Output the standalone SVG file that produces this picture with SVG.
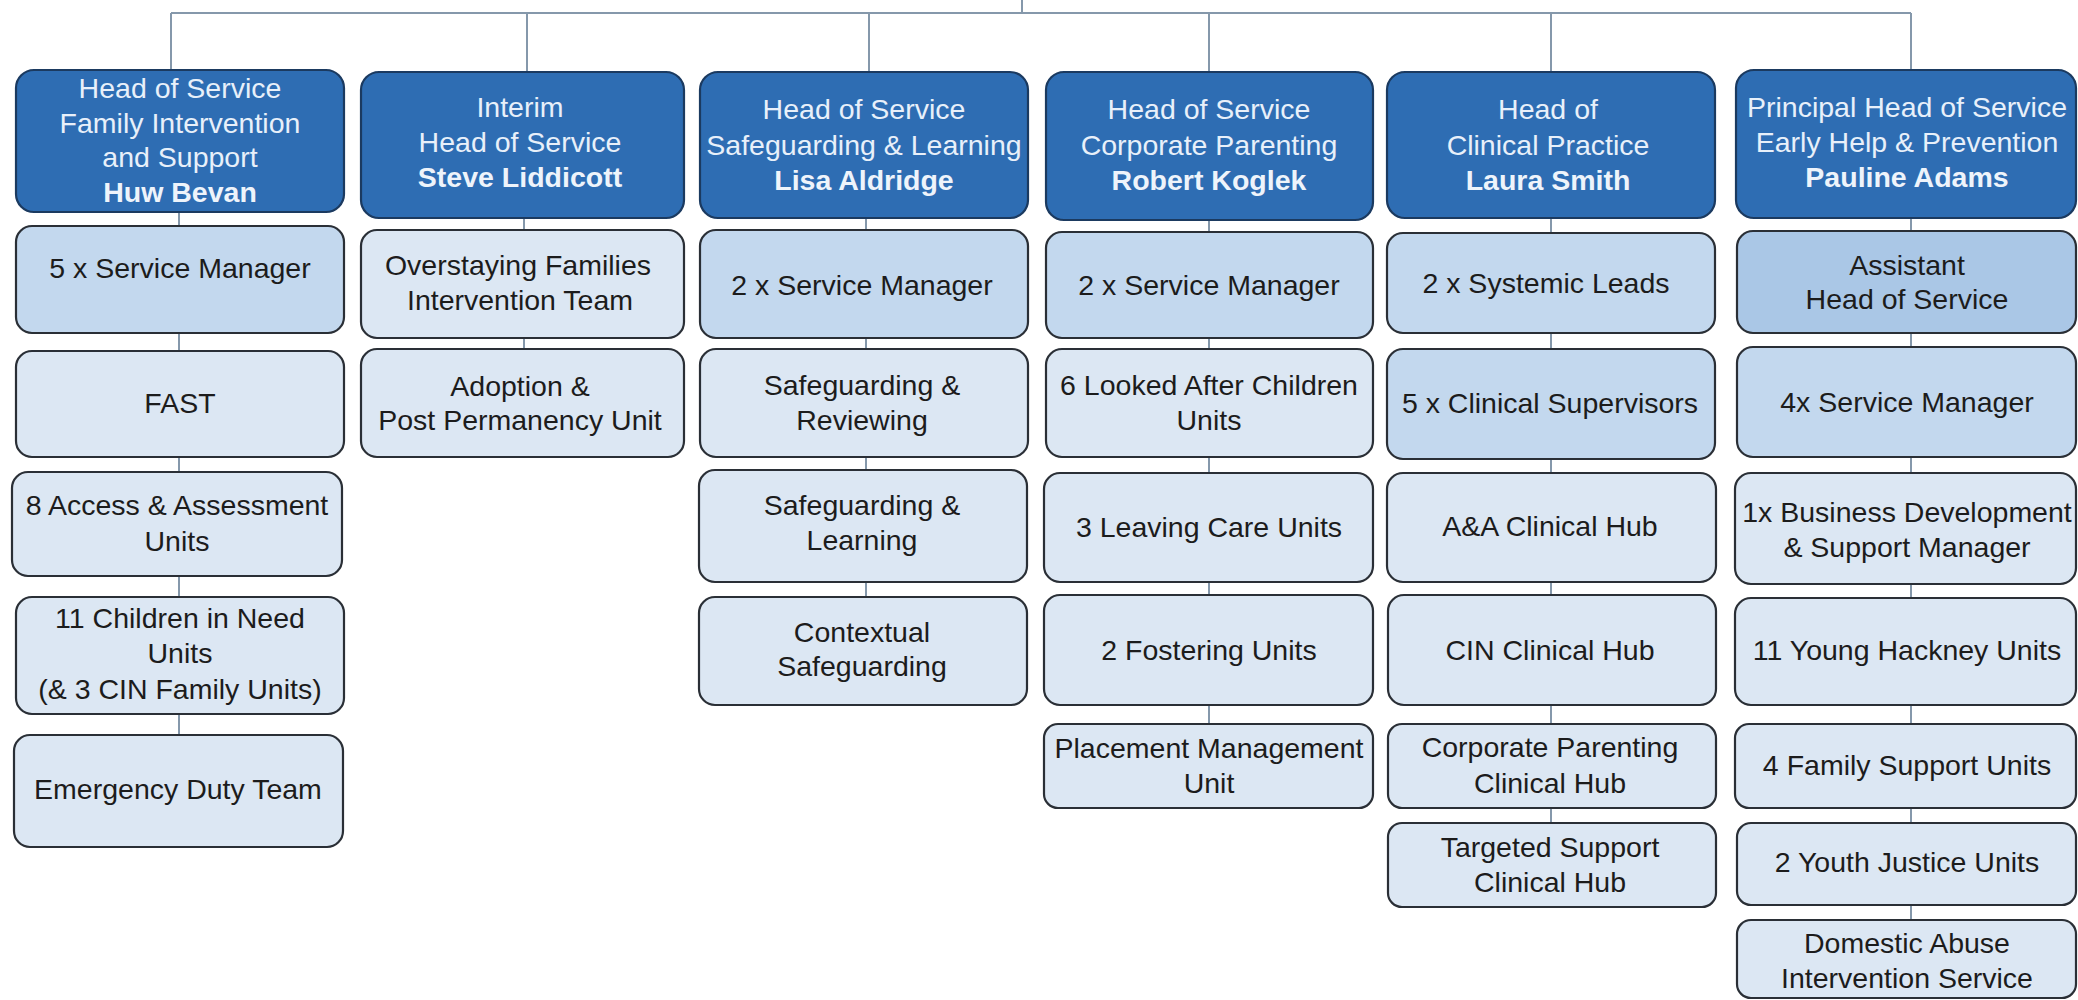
<svg xmlns="http://www.w3.org/2000/svg" width="2078" height="1000" viewBox="0 0 2078 1000">
<style>
rect{stroke:#2a2f36;stroke-width:2.2}
.hdr{fill:#2e6db3;stroke:#1b3a60}
.mid{fill:#c3d8ee}
.dk{fill:#aac7e6}
.lt{fill:#dce7f3}
text{font-family:"Liberation Sans",Arial,sans-serif;font-size:28.5px;text-anchor:middle}
.ht{fill:#e8f0fa}
.hb{fill:#eef4fb;font-weight:bold}
.bt{fill:#1c1c1c}
.con{fill:none;stroke:#8598ab;stroke-width:2}
</style>
<rect x="0" y="0" width="2078" height="1000" style="fill:#ffffff;stroke:none"/>
<g id="connectors">
<path class="con" d="M1022 0V13M171 13H1911M171 13V70M527 13V72M869 13V72M1209 13V72M1551 13V72M1911 13V70"/>
<path class="con" d="M179 212V735M524 218V349M866 218V597M1209 220V724M1551 218V823M1911 218V920"/>
</g>
<g id="col1">
<g id="n-huw"><rect class="hdr" x="16" y="70" width="328" height="142" rx="18"/>
<text class="ht" x="180" y="98">Head of Service</text><text class="ht" x="180" y="133">Family Intervention</text><text class="ht" x="180" y="167">and Support</text><text class="hb" x="180" y="202">Huw Bevan</text></g>
<g id="n-sm5"><rect class="mid" x="16" y="226" width="328" height="107" rx="16"/><text class="bt" x="180" y="278">5 x Service Manager</text></g>
<g id="n-fast"><rect class="lt" x="16" y="351" width="328" height="106" rx="16"/><text class="bt" x="180" y="413">FAST</text></g>
<g id="n-aa"><rect class="lt" x="12" y="472" width="330" height="104" rx="16"/><text class="bt" x="177" y="515">8 Access &amp; Assessment</text><text class="bt" x="177" y="551">Units</text></g>
<g id="n-cin"><rect class="lt" x="16" y="597" width="328" height="117" rx="16"/><text class="bt" x="180" y="628">11 Children in Need</text><text class="bt" x="180" y="663">Units</text><text class="bt" x="180" y="699">(&amp; 3 CIN Family Units)</text></g>
<g id="n-edt"><rect class="lt" x="14" y="735" width="329" height="112" rx="16"/><text class="bt" x="178" y="799">Emergency Duty Team</text></g>
</g>
<g id="col2">
<g id="n-steve"><rect class="hdr" x="361" y="72" width="323" height="146" rx="18"/>
<text class="ht" x="520" y="117">Interim</text><text class="ht" x="520" y="152">Head of Service</text><text class="hb" x="520" y="187">Steve Liddicott</text></g>
<g id="n-over"><rect class="lt" x="361" y="230" width="323" height="108" rx="16"/><text class="bt" x="518" y="275">Overstaying Families</text><text class="bt" x="520" y="310">Intervention Team</text></g>
<g id="n-adopt"><rect class="lt" x="361" y="349" width="323" height="108" rx="16"/><text class="bt" x="520" y="396">Adoption &amp;</text><text class="bt" x="520" y="430">Post Permanency Unit</text></g>
</g>
<g id="col3">
<g id="n-lisa"><rect class="hdr" x="700" y="72" width="328" height="146" rx="18"/>
<text class="ht" x="864" y="119">Head of Service</text><text class="ht" x="864" y="155">Safeguarding &amp; Learning</text><text class="hb" x="864" y="190">Lisa Aldridge</text></g>
<g id="n-sm2a"><rect class="mid" x="700" y="230" width="328" height="108" rx="16"/><text class="bt" x="862" y="295">2 x Service Manager</text></g>
<g id="n-sr"><rect class="lt" x="700" y="349" width="328" height="108" rx="16"/><text class="bt" x="862" y="395">Safeguarding &amp;</text><text class="bt" x="862" y="430">Reviewing</text></g>
<g id="n-sl"><rect class="lt" x="699" y="470" width="328" height="112" rx="16"/><text class="bt" x="862" y="515">Safeguarding &amp;</text><text class="bt" x="862" y="550">Learning</text></g>
<g id="n-ctx"><rect class="lt" x="699" y="597" width="328" height="108" rx="16"/><text class="bt" x="862" y="642">Contextual</text><text class="bt" x="862" y="676">Safeguarding</text></g>
</g>
<g id="col4">
<g id="n-robert"><rect class="hdr" x="1046" y="72" width="327" height="148" rx="18"/>
<text class="ht" x="1209" y="119">Head of Service</text><text class="ht" x="1209" y="155">Corporate Parenting</text><text class="hb" x="1209" y="190">Robert Koglek</text></g>
<g id="n-sm2b"><rect class="mid" x="1046" y="232" width="327" height="106" rx="16"/><text class="bt" x="1209" y="295">2 x Service Manager</text></g>
<g id="n-lac"><rect class="lt" x="1046" y="349" width="327" height="108" rx="16"/><text class="bt" x="1209" y="395">6 Looked After Children</text><text class="bt" x="1209" y="430">Units</text></g>
<g id="n-lcu"><rect class="lt" x="1044" y="473" width="329" height="109" rx="16"/><text class="bt" x="1209" y="537">3 Leaving Care Units</text></g>
<g id="n-fost"><rect class="lt" x="1044" y="595" width="329" height="110" rx="16"/><text class="bt" x="1209" y="660">2 Fostering Units</text></g>
<g id="n-pmu"><rect class="lt" x="1044" y="724" width="329" height="84" rx="14"/><text class="bt" x="1209" y="758">Placement Management</text><text class="bt" x="1209" y="793">Unit</text></g>
</g>
<g id="col5">
<g id="n-laura"><rect class="hdr" x="1387" y="72" width="328" height="146" rx="18"/>
<text class="ht" x="1548" y="119">Head of</text><text class="ht" x="1548" y="155">Clinical Practice</text><text class="hb" x="1548" y="190">Laura Smith</text></g>
<g id="n-sys"><rect class="mid" x="1387" y="233" width="328" height="100" rx="16"/><text class="bt" x="1546" y="293">2 x Systemic Leads</text></g>
<g id="n-sup"><rect class="mid" x="1387" y="349" width="328" height="110" rx="16"/><text class="bt" x="1550" y="413">5  x Clinical Supervisors</text></g>
<g id="n-aahub"><rect class="lt" x="1387" y="473" width="329" height="109" rx="16"/><text class="bt" x="1550" y="536">A&amp;A Clinical Hub</text></g>
<g id="n-cinhub"><rect class="lt" x="1388" y="595" width="328" height="110" rx="16"/><text class="bt" x="1550" y="660">CIN Clinical Hub</text></g>
<g id="n-cphub"><rect class="lt" x="1388" y="724" width="328" height="84" rx="14"/><text class="bt" x="1550" y="757">Corporate Parenting</text><text class="bt" x="1550" y="793">Clinical Hub</text></g>
<g id="n-tshub"><rect class="lt" x="1388" y="823" width="328" height="84" rx="14"/><text class="bt" x="1550" y="857">Targeted Support</text><text class="bt" x="1550" y="892">Clinical Hub</text></g>
</g>
<g id="col6">
<g id="n-pauline"><rect class="hdr" x="1736" y="70" width="340" height="148" rx="18"/>
<text class="ht" x="1907" y="117">Principal Head of Service</text><text class="ht" x="1907" y="152">Early Help &amp; Prevention</text><text class="hb" x="1907" y="187">Pauline Adams</text></g>
<g id="n-ahos"><rect class="dk" x="1737" y="231" width="339" height="102" rx="16"/><text class="bt" x="1907" y="275">Assistant</text><text class="bt" x="1907" y="309">Head of Service</text></g>
<g id="n-sm4"><rect class="mid" x="1737" y="347" width="339" height="110" rx="16"/><text class="bt" x="1907" y="412">4x Service Manager</text></g>
<g id="n-bdm"><rect class="lt" x="1735" y="473" width="341" height="111" rx="16"/><text class="bt" x="1907" y="522">1x Business Development</text><text class="bt" x="1907" y="557">&amp; Support Manager</text></g>
<g id="n-yh"><rect class="lt" x="1735" y="598" width="341" height="107" rx="16"/><text class="bt" x="1907" y="660">11 Young Hackney Units</text></g>
<g id="n-fsu"><rect class="lt" x="1735" y="724" width="341" height="84" rx="14"/><text class="bt" x="1907" y="775">4 Family Support Units</text></g>
<g id="n-yju"><rect class="lt" x="1737" y="823" width="339" height="82" rx="14"/><text class="bt" x="1907" y="872">2 Youth Justice Units</text></g>
<g id="n-dais"><rect class="lt" x="1737" y="920" width="339" height="78" rx="14"/><text class="bt" x="1907" y="953">Domestic Abuse</text><text class="bt" x="1907" y="988">Intervention Service</text></g>
</g>
</svg>
